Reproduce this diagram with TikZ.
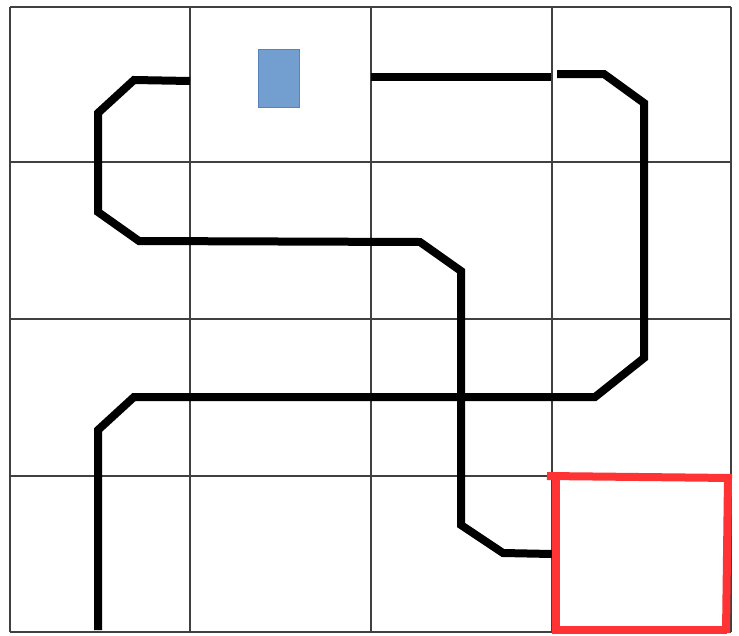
\documentclass[tikz,border=0pt]{standalone}
\definecolor{gridgray}{RGB}{64,64,64}
\definecolor{boxblue}{RGB}{114,159,207}
\definecolor{boxblueline}{RGB}{90,130,190}
\definecolor{goalred}{RGB}{255,51,51}
\tikzset{
  gridline/.style={draw=gridgray, line width=1.6pt},
  route/.style={draw=black, line width=8pt, line cap=butt, line join=miter},
  goal/.style={draw=goalred, line width=8pt, line cap=butt},
  robot/.style={fill=boxblue, draw=boxblueline, line width=0.8pt}
}
\begin{document}
\begin{tikzpicture}[x=1pt,y=-1pt]
\useasboundingbox (0,0) rectangle (739,635);
\fill[white] (0,0) rectangle (739,635);
% grid
\foreach \x in {10,190,371,552,731} \draw[gridline] (\x,7) -- (\x,632);
\foreach \y in {7,162,319,476,632} \draw[gridline] (10,\y) -- (731,\y);
% blue block
\path[robot] (258,49) rectangle (299,107);
% route 1
\draw[route] (190,81) -- (134,80) -- (98,113) -- (98,212) -- (139,241) -- (420,242) -- (461,271) -- (461,525) -- (503,553) -- (552,554);
% route 2
\draw[route] (371,77) -- (551,77);
\draw[route] (557,74) -- (604,74) -- (644,103) -- (644,358) -- (595,397) -- (134,397) -- (98,430) -- (98,630);
% red goal box
\draw[goal] (547,476) -- (732,478);
\draw[goal] (728,477) -- (726,633);
\draw[goal] (727,630) -- (552,630);
\draw[goal] (556,478) -- (556,634);
\end{tikzpicture}
\end{document}
